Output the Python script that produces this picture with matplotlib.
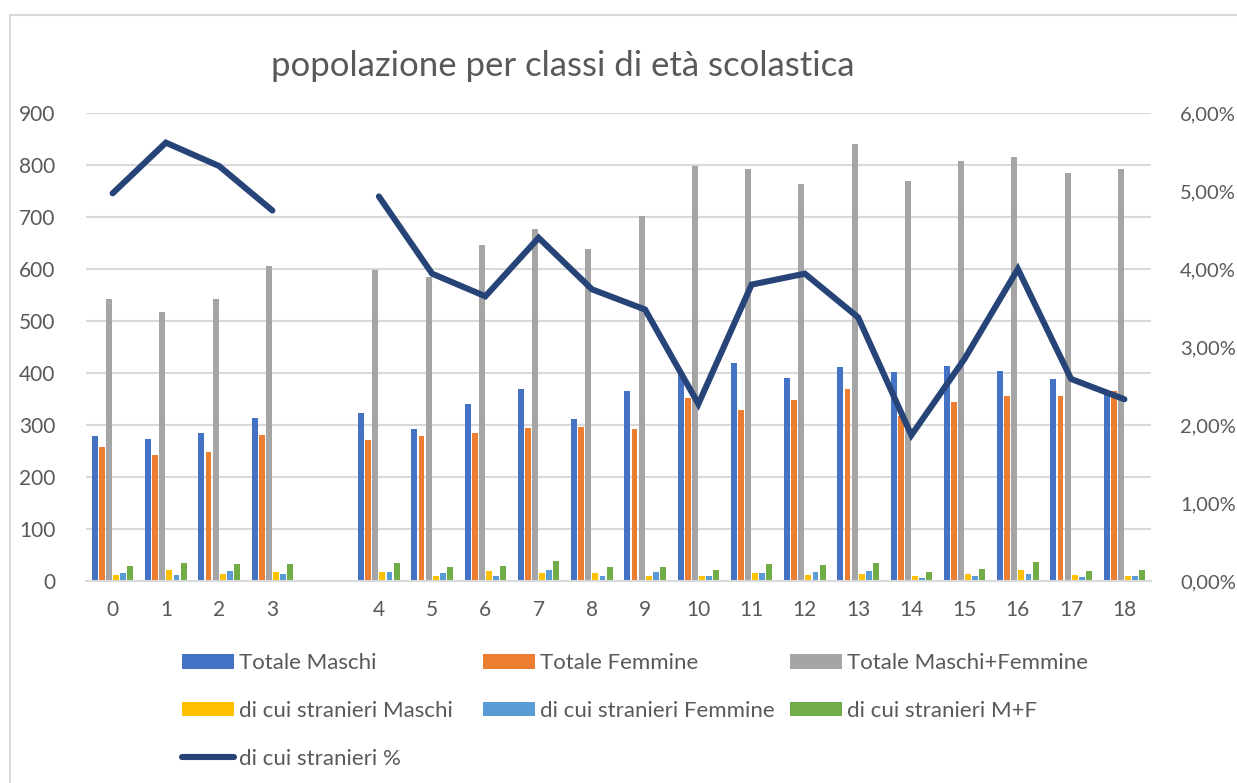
import numpy as np
import matplotlib
matplotlib.use('Agg')
import matplotlib.pyplot as plt
from matplotlib.patches import Rectangle
from matplotlib.lines import Line2D
from matplotlib.ticker import FuncFormatter

# data (the empty category is the gap between 3 and 4)
categories = ['0', '1', '2', '3', '', '4', '5', '6', '7', '8', '9', '10', '11', '12',
              '13', '14', '15', '16', '17', '18']
totale_maschi = [279, 273, 284, 313, np.nan, 323, 292, 340, 369, 311, 366, 400, 419, 391,
                 411, 402, 413, 404, 389, 361]
totale_femmine = [257, 243, 248, 281, np.nan, 272, 279, 284, 294, 296, 293, 352, 328, 349,
                  369, 318, 345, 356, 356, 366]
totale_mf = [542, 517, 543, 605, np.nan, 598, 584, 647, 676, 638, 702, 798, 793, 764,
             840, 769, 808, 815, 784, 793]
stranieri_m = [12, 21, 14, 18, np.nan, 17, 10, 19, 15, 15, 10, 10, 16, 12,
               13, 10, 13, 21, 12, 10]
stranieri_f = [16, 12, 19, 14, np.nan, 17, 15, 10, 21, 10, 17, 10, 15, 18,
               20, 5, 10, 13, 7, 10]
stranieri_mf = [29, 34, 33, 33, np.nan, 34, 27, 29, 38, 27, 27, 21, 32, 31,
                34, 17, 24, 36, 20, 21]
stranieri_pct = [0.0497, 0.0562, 0.0532, 0.0475, np.nan, 0.0493, 0.0394, 0.0365, 0.0440,
                 0.0374, 0.0348, 0.0227, 0.0380, 0.0394, 0.0338, 0.0187, 0.0285, 0.0400,
                 0.0259, 0.0233]

bar_series = [
        ('Totale Maschi', totale_maschi, '#4472C4'),
        ('Totale Femmine', totale_femmine, '#ED7D31'),
        ('Totale Maschi+Femmine', totale_mf, '#A5A5A5'),
        ('di cui stranieri Maschi', stranieri_m, '#FFC000'),
        ('di cui stranieri Femmine', stranieri_f, '#5B9BD5'),
        ('di cui stranieri M+F', stranieri_mf, '#70AD47'),
]
line_label = 'di cui stranieri %'
line_color = '#264478'

plt.rcParams['font.family'] = ['Lato', 'DejaVu Sans']
textcolor = '#595959'
gridcolor = '#D9D9D9'

fig = plt.figure(figsize=(12.37, 7.83), dpi=100)
fig.patches.append(Rectangle((10 / 1237, -0.1), 1.2, 1.1 - 15 / 783, transform=fig.transFigure,
                             fill=False, edgecolor=gridcolor, linewidth=1.5))

ax = fig.add_axes([86 / 1237, 1 - 581 / 783, (1151 - 86) / 1237, (581 - 113) / 783])
x = np.arange(len(categories))
pitch = 0.133
width = 0.11
handles = []
for i, (label, vals, color) in enumerate(bar_series):
        b = ax.bar(x + (i - 2.5) * pitch, vals, width, color=color, label=label, zorder=2)
        handles.append(b)

ax.set_xlim(-0.5, len(categories) - 0.5)
ax.set_ylim(0, 900)
ax.set_yticks(range(0, 901, 100))
ax.set_xticks(x)
ax.set_xticklabels(categories)
ax.grid(axis='y', color=gridcolor, linewidth=1.5, zorder=0)
ax.set_axisbelow(True)
for s in ['top', 'right', 'left']:
        ax.spines[s].set_visible(False)
ax.spines['bottom'].set_color(gridcolor)
ax.spines['bottom'].set_linewidth(1.5)
ax.tick_params(axis='both', length=0, labelsize=15, colors=textcolor)
ax.tick_params(axis='y', pad=22)
ax.tick_params(axis='x', pad=14)

ax2 = ax.twinx()
ax2.plot(x, stranieri_pct, color=line_color, linewidth=4.4, solid_capstyle='round',
         solid_joinstyle='miter', zorder=3)
ax2.set_ylim(0, 0.06)
ax2.set_yticks(np.arange(0, 0.0601, 0.01))
ax2.yaxis.set_major_formatter(FuncFormatter(lambda v, p: ('%.2f%%' % (v * 100)).replace('.', ',')))
for s in ax2.spines.values():
        s.set_visible(False)
ax2.tick_params(axis='y', length=0, labelsize=14.5, colors=textcolor, pad=21)

fig.text(563 / 1237, 1 - 66 / 783, 'popolazione per classi di età scolastica', ha='center',
         va='center', fontsize=25, color=textcolor)

# legend: Excel lays it out in fixed-width columns, so one legend per column
line_handle = Line2D([0], [0], color=line_color, linewidth=4.4, solid_capstyle='round')
columns = [
        ([handles[0], handles[3], line_handle], [bar_series[0][0], bar_series[3][0], line_label], 182),
        ([handles[1], handles[4]], [bar_series[1][0], bar_series[4][0]], 483),
        ([handles[2], handles[5]], [bar_series[2][0], bar_series[5][0]], 790),
]
for hs, ls, xpos in columns:
        leg = fig.legend(hs, ls, loc='upper left', bbox_to_anchor=(xpos / 1237, 1 - 653 / 783),
                         frameon=False, fontsize=16, handlelength=2.35, handleheight=0.65,
                         handletextpad=0.2, labelspacing=1.25, borderaxespad=0, borderpad=0)
        for t in leg.get_texts():
                t.set_color(textcolor)

fig.savefig('out.png', dpi=100)
